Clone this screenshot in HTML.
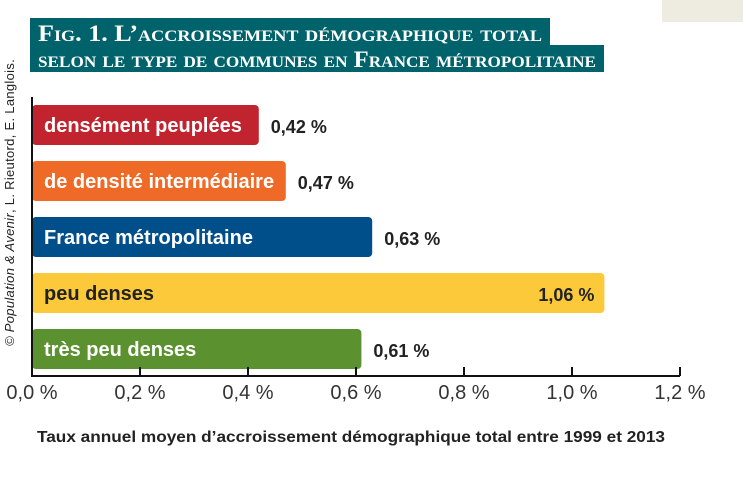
<!DOCTYPE html>
<html><head><meta charset="utf-8"><style>
body{margin:0;width:743px;height:477px;background:#fff;overflow:hidden;position:relative;font-family:"Liberation Sans",sans-serif}
</style></head><body>
<div style="position:absolute;left:662px;top:0;width:81px;height:22px;background:#eeebe0"></div>
<div style="position:absolute;left:30px;top:18px;width:520px;height:28px;background:#00626a"></div>
<div style="position:absolute;left:30px;top:45px;width:574px;height:27px;background:#00626a"></div>
<div style="position:absolute;left:2px;top:346px;transform:rotate(-90deg);transform-origin:0 0;font-size:13px;color:#222;white-space:nowrap;letter-spacing:0.3px"><i>© Population &amp; Avenir</i>, L. Rieutord, E. Langlois.</div>
<svg id="c" width="743" height="477" style="position:absolute;left:0;top:0">
<text x="38" y="41" font-family="Liberation Serif" font-weight="bold" font-size="23" fill="#fff" style="font-variant:small-caps" textLength="504" lengthAdjust="spacingAndGlyphs">Fig. 1. L’accroissement démographique total</text>
<text x="38" y="67" font-family="Liberation Serif" font-weight="bold" font-size="23" fill="#fff" style="font-variant:small-caps" textLength="558" lengthAdjust="spacingAndGlyphs">selon le type de communes en France métropolitaine</text>
</svg>
<script>
const categories=["densément peuplées","de densité intermédiaire","France métropolitaine","peu denses","très peu denses"];
const values=[0.42,0.47,0.63,1.06,0.61];
const labels=["0,42 %","0,47 %","0,63 %","1,06 %","0,61 %"];
const colors=["#c1232f","#ee6a26","#004f8b","#fbc93a","#5b922f"];
const ticks=[0,0.2,0.4,0.6,0.8,1.0,1.2];
const tickLabels=["0,0 %","0,2 %","0,4 %","0,6 %","0,8 %","1,0 %","1,2 %"];
const svg=document.getElementById('c');const NS="http://www.w3.org/2000/svg";
const x=v=>32+v*540;const y=i=>105+i*56;
function mk(t,a,txt){const e=document.createElementNS(NS,t);for(const k in a)e.setAttribute(k,a[k]);if(txt!=null)e.textContent=txt;svg.appendChild(e);return e;}
categories.forEach((c,i)=>{
 let r=mk('rect',{x:x(0),y:y(i),width:x(values[i])-x(0),height:40,rx:4,fill:colors[i]});
 
 
 let dark=i==3;
 let t=mk('text',{x:44,y:y(i)+27,'font-size':20,'font-weight':'bold',fill:dark?'#222':'#fff'},c);
 
 
 let inside=i==3;
 let v=mk('text',{x:inside?x(values[i])-10:x(values[i])+12,y:y(i)+28,'font-size':18,'font-weight':'bold',fill:'#222','text-anchor':inside?'end':'start'},labels[i]);
 
 
});
let ax=mk('path',{d:`M${x(0)} 97V376H${x(1.2)}`,stroke:'#111','stroke-width':2,fill:'none'});


ticks.forEach((t,i)=>{
 let l=mk('line',{x1:x(t),x2:x(t),y1:367,y2:376,stroke:'#111','stroke-width':2});
 
 
 let tl=mk('text',{x:x(t),y:399,'font-size':20,fill:'#333','text-anchor':'middle'},tickLabels[i]);
 
 
});
let cap=mk('text',{x:37,y:442,'font-size':16,'font-weight':'bold',fill:'#222',textLength:628,lengthAdjust:'spacingAndGlyphs'},"Taux annuel moyen d’accroissement démographique total entre 1999 et 2013");


</script>
</body></html>
